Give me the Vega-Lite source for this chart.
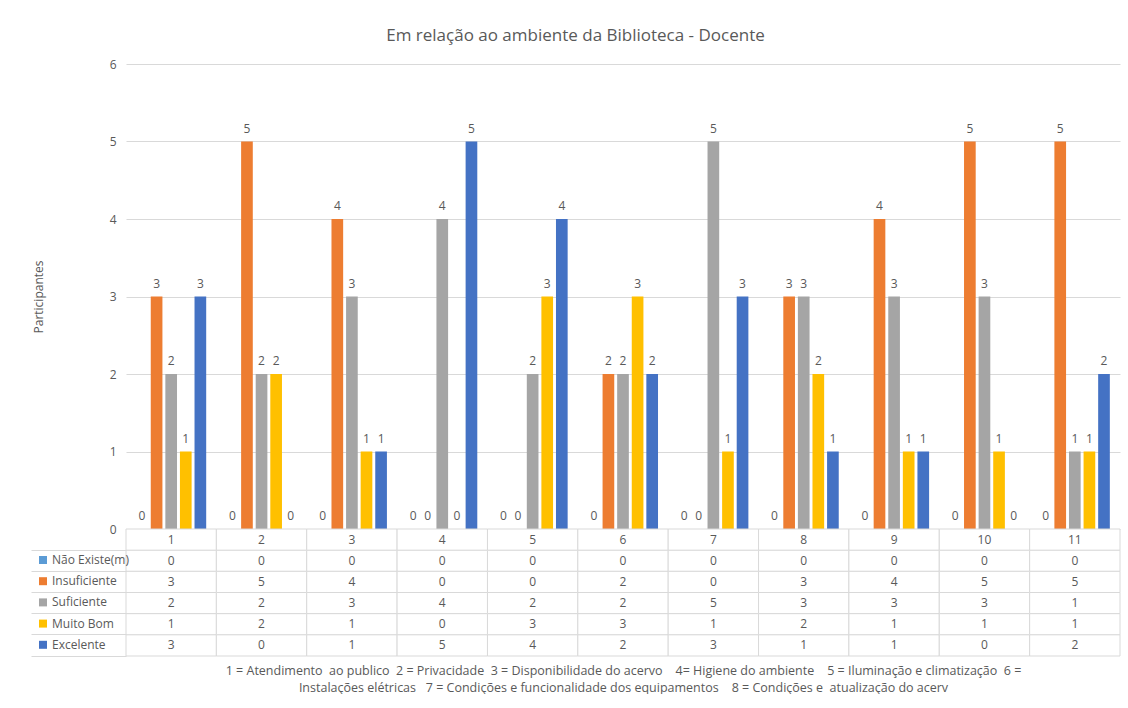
{
  "$schema": "https://vega.github.io/schema/vega-lite/v6.json",
  "padding": {"left": 30, "top": 27, "right": 0, "bottom": 0},
  "background": "white",
  "bounds": "flush",
  "config": {
    "view": {"stroke": null},
    "font": "Open Sans",
    "text": {"font": "Open Sans"}
  },
  "title": {
    "text": "Em relação ao ambiente da Biblioteca - Docente",
    "fontSize": 17,
    "fontWeight": "normal",
    "color": "#595959",
    "anchor": "middle",
    "offset": 13
  },
  "spacing": 0,
  "resolve": {"scale": {"x": "independent", "y": "independent", "color": "independent"}},
  "datasets": {
    "vals": [
      {"cat": 1, "series": "Não Existe(m)", "value": 0}, {"cat": 1, "series": "Insuficiente", "value": 3}, {"cat": 1, "series": "Suficiente", "value": 2}, {"cat": 1, "series": "Muito Bom", "value": 1}, {"cat": 1, "series": "Excelente", "value": 3},
      {"cat": 2, "series": "Não Existe(m)", "value": 0}, {"cat": 2, "series": "Insuficiente", "value": 5}, {"cat": 2, "series": "Suficiente", "value": 2}, {"cat": 2, "series": "Muito Bom", "value": 2}, {"cat": 2, "series": "Excelente", "value": 0},
      {"cat": 3, "series": "Não Existe(m)", "value": 0}, {"cat": 3, "series": "Insuficiente", "value": 4}, {"cat": 3, "series": "Suficiente", "value": 3}, {"cat": 3, "series": "Muito Bom", "value": 1}, {"cat": 3, "series": "Excelente", "value": 1},
      {"cat": 4, "series": "Não Existe(m)", "value": 0}, {"cat": 4, "series": "Insuficiente", "value": 0}, {"cat": 4, "series": "Suficiente", "value": 4}, {"cat": 4, "series": "Muito Bom", "value": 0}, {"cat": 4, "series": "Excelente", "value": 5},
      {"cat": 5, "series": "Não Existe(m)", "value": 0}, {"cat": 5, "series": "Insuficiente", "value": 0}, {"cat": 5, "series": "Suficiente", "value": 2}, {"cat": 5, "series": "Muito Bom", "value": 3}, {"cat": 5, "series": "Excelente", "value": 4},
      {"cat": 6, "series": "Não Existe(m)", "value": 0}, {"cat": 6, "series": "Insuficiente", "value": 2}, {"cat": 6, "series": "Suficiente", "value": 2}, {"cat": 6, "series": "Muito Bom", "value": 3}, {"cat": 6, "series": "Excelente", "value": 2},
      {"cat": 7, "series": "Não Existe(m)", "value": 0}, {"cat": 7, "series": "Insuficiente", "value": 0}, {"cat": 7, "series": "Suficiente", "value": 5}, {"cat": 7, "series": "Muito Bom", "value": 1}, {"cat": 7, "series": "Excelente", "value": 3},
      {"cat": 8, "series": "Não Existe(m)", "value": 0}, {"cat": 8, "series": "Insuficiente", "value": 3}, {"cat": 8, "series": "Suficiente", "value": 3}, {"cat": 8, "series": "Muito Bom", "value": 2}, {"cat": 8, "series": "Excelente", "value": 1},
      {"cat": 9, "series": "Não Existe(m)", "value": 0}, {"cat": 9, "series": "Insuficiente", "value": 4}, {"cat": 9, "series": "Suficiente", "value": 3}, {"cat": 9, "series": "Muito Bom", "value": 1}, {"cat": 9, "series": "Excelente", "value": 1},
      {"cat": 10, "series": "Não Existe(m)", "value": 0}, {"cat": 10, "series": "Insuficiente", "value": 5}, {"cat": 10, "series": "Suficiente", "value": 3}, {"cat": 10, "series": "Muito Bom", "value": 1}, {"cat": 10, "series": "Excelente", "value": 0},
      {"cat": 11, "series": "Não Existe(m)", "value": 0}, {"cat": 11, "series": "Insuficiente", "value": 5}, {"cat": 11, "series": "Suficiente", "value": 1}, {"cat": 11, "series": "Muito Bom", "value": 1}, {"cat": 11, "series": "Excelente", "value": 2}
    ],
    "cats": [
      {"cat": 1, "row": "hdr"}, {"cat": 2, "row": "hdr"}, {"cat": 3, "row": "hdr"}, {"cat": 4, "row": "hdr"}, {"cat": 5, "row": "hdr"}, {"cat": 6, "row": "hdr"},
      {"cat": 7, "row": "hdr"}, {"cat": 8, "row": "hdr"}, {"cat": 9, "row": "hdr"}, {"cat": 10, "row": "hdr"}, {"cat": 11, "row": "hdr"}
    ]
  },
  "vconcat": [
    {
      "width": 994,
      "height": 465,
      "data": {"name": "vals"},
      "encoding": {
        "x": {"field": "cat", "type": "ordinal", "scale": {"paddingInner": 0.225, "paddingOuter": 0.1125}, "axis": null},
        "xOffset": {"field": "series", "type": "nominal", "sort": ["Não Existe(m)", "Insuficiente", "Suficiente", "Muito Bom", "Excelente"], "scale": {"paddingInner": 0.2}},
        "y": {
          "field": "value", "type": "quantitative",
          "scale": {"domain": [0, 6]},
          "axis": {
            "values": [0, 1, 2, 3, 4, 5, 6],
            "title": "Participantes",
            "titleFontWeight": "normal", "titleFontSize": 12, "titleColor": "#595959", "titlePadding": 64,
            "labelColor": "#595959", "labelFontSize": 12, "labelPadding": 10,
            "domain": false, "ticks": false,
            "grid": true, "gridColor": "#d9d9d9", "gridWidth": 1
          }
        }
      },
      "layer": [
        {
          "mark": {"type": "bar"},
          "encoding": {
            "color": {
              "field": "series", "type": "nominal",
              "scale": {"domain": ["Não Existe(m)", "Insuficiente", "Suficiente", "Muito Bom", "Excelente"], "range": ["#5B9BD5", "#ED7D31", "#A5A5A5", "#FFC000", "#4472C4"]},
              "legend": null
            }
          }
        },
        {
          "mark": {"type": "text", "baseline": "bottom", "dy": -6, "fontSize": 12, "fill": "#595959"},
          "encoding": {"text": {"field": "value", "type": "quantitative"}}
        }
      ]
    },
    {
      "width": 994,
      "height": 127,
      "encoding": {
        "x": {
          "field": "cat", "type": "ordinal", "scale": {"padding": 0},
          "axis": {
            "labels": false, "ticks": false, "domain": false,
            "title": ["1 = Atendimento \u00a0ao publico \u00a02 = Privacidade \u00a03 = Disponibilidade do acervo \u00a0 \u00a04= Higiene do ambiente \u00a0 \u00a05 = Iluminação e climatização \u00a06 =", "Instalações elétricas \u00a0 7 = Condições e funcionalidade dos equipamentos \u00a0 \u00a08 = Condições e \u00a0atualização do acerv"],
            "titleFontSize": 12.5, "titleFontWeight": "normal", "titleColor": "#595959", "titlePadding": 8, "titleLineHeight": 17
          }
        }
      },
      "layer": [
        {
          "data": {"name": "vals"},
          "mark": {"type": "rect", "fill": "white", "stroke": "#d9d9d9", "strokeWidth": 1},
          "encoding": {
            "y": {
              "field": "series", "type": "nominal",
              "scale": {"domain": ["hdr", "Não Existe(m)", "Insuficiente", "Suficiente", "Muito Bom", "Excelente"], "padding": 0},
              "axis": {"labels": false, "domain": false, "title": null, "ticks": true, "tickSize": 95, "tickColor": "#d9d9d9", "bandPosition": 1}
            }
          }
        },
        {
          "data": {"name": "cats"},
          "mark": {"type": "rect", "fill": "white", "stroke": "#d9d9d9", "strokeWidth": 1},
          "encoding": {"y": {"field": "row", "type": "nominal"}}
        },
        {
          "data": {"name": "cats"},
          "mark": {"type": "text", "fontSize": 12, "fill": "#595959"},
          "encoding": {"y": {"field": "row", "type": "nominal"}, "text": {"field": "cat", "type": "nominal"}}
        },
        {
          "data": {"name": "vals"},
          "mark": {"type": "text", "fontSize": 12, "fill": "#595959"},
          "encoding": {"y": {"field": "series", "type": "nominal"}, "text": {"field": "value", "type": "quantitative"}}
        },
        {
          "data": {"name": "vals"},
          "mark": {"type": "point", "shape": "square", "filled": true, "opacity": 0, "size": 0},
          "encoding": {
            "y": {"field": "series", "type": "nominal"},
            "color": {
              "field": "series", "type": "nominal",
              "scale": {"domain": ["Não Existe(m)", "Insuficiente", "Suficiente", "Muito Bom", "Excelente"], "range": ["#5B9BD5", "#ED7D31", "#A5A5A5", "#FFC000", "#4472C4"]},
              "legend": {
                "orient": "none", "legendX": -89, "legendY": 25, "title": null,
                "symbolType": "square", "symbolSize": 64, "symbolOpacity": 1, "symbolStrokeWidth": 0,
                "labelFontSize": 12, "labelColor": "#595959", "labelOffset": 3,
                "rowPadding": 9.2, "padding": 0
              }
            }
          }
        }
      ]
    }
  ]
}
